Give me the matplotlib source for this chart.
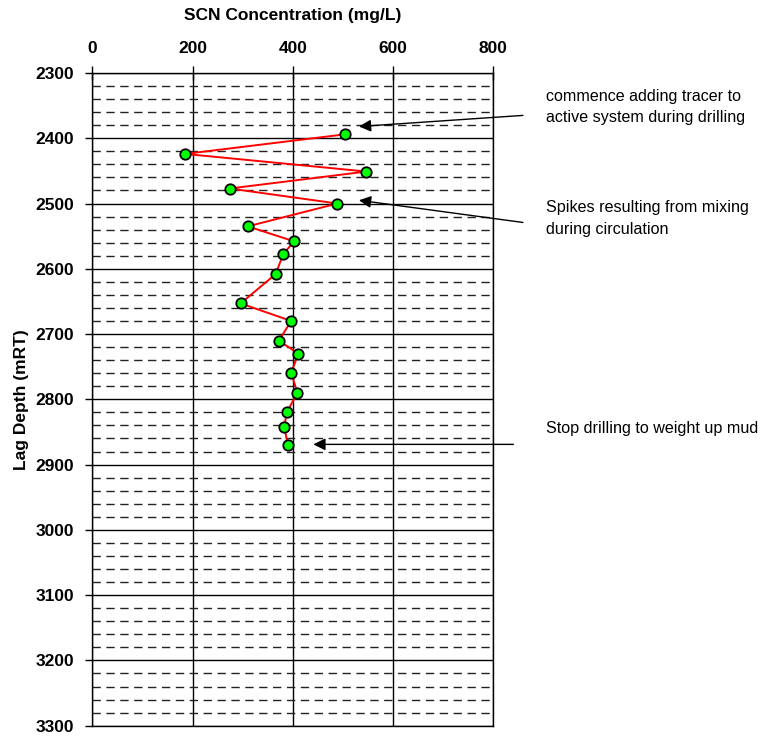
import matplotlib
matplotlib.use('Agg')
import matplotlib.pyplot as plt
from matplotlib.ticker import MultipleLocator

plt.rcParams['font.family'] = ['Liberation Sans', 'DejaVu Sans']

# SCN concentration (mg/L) vs lag depth (mRT)
scn = [504, 185, 547, 274, 489, 310, 403, 381, 366, 296,
       397, 372, 411, 397, 409, 388, 383, 390]
depth = [2394, 2424, 2451, 2477, 2500, 2535, 2558, 2577, 2608, 2653,
         2680, 2710, 2730, 2759, 2790, 2820, 2842, 2870]

notes = ['commence adding tracer to\nactive system during drilling',
         'Spikes resulting from mixing\nduring circulation',
         'Stop drilling to weight up mud']
note_y = [2352, 2523, 2845]
arrow_head = [(532, 2382), (532, 2495), (441, 2869)]
arrow_tail = [(859, 2365), (859, 2529), (840, 2869)]

fig = plt.figure(figsize=(7.62, 7.38), dpi=100)
ax = fig.add_axes([0.1211, 0.0167, 0.5263, 0.8844])

ax.set_xlim(0, 800)
ax.set_ylim(3300, 2300)
ax.xaxis.set_major_locator(MultipleLocator(200))
ax.yaxis.set_major_locator(MultipleLocator(100))
ax.yaxis.set_minor_locator(MultipleLocator(20))

ax.xaxis.tick_top()
ax.xaxis.set_label_position('top')
ax.tick_params(axis='x', direction='inout', length=10, width=1, pad=7,
               labelsize=12.5)
ax.tick_params(axis='y', direction='out', length=5, width=1, pad=8,
               labelsize=12.5)
ax.tick_params(axis='y', which='minor', length=0)
for lab in ax.get_xticklabels() + ax.get_yticklabels():
    lab.set_fontweight('bold')

ax.grid(True, which='major', color='black', lw=1)
ax.grid(True, which='minor', axis='y', color='#222222', lw=1,
        linestyle=(0, (6, 4)))
ax.set_axisbelow(True)
for s in ax.spines.values():
    s.set_linewidth(1)
    s.set_color('black')

ax.plot(scn, depth, color='red', lw=1.4, marker='o', markersize=7.5,
        markerfacecolor='#00ff00', markeredgecolor='black',
        markeredgewidth=1.3, zorder=3)

ax.set_xlabel('SCN Concentration (mg/L)', fontsize=12.5, fontweight='bold',
              labelpad=15.5)
ax.set_ylabel('Lag Depth (mRT)', fontsize=12.5, fontweight='bold', labelpad=5)

for head, tail in zip(arrow_head, arrow_tail):
    ax.annotate('', xy=head, xytext=tail, annotation_clip=False,
                arrowprops=dict(arrowstyle='-|>', color='black', lw=1,
                                mutation_scale=18, shrinkA=0, shrinkB=0))

for txt, y in zip(notes, note_y):
    ax.text(905, y, txt, fontsize=11.6, va='center', ha='left',
            linespacing=1.55, clip_on=False)

fig.savefig('out.png', dpi=100)
